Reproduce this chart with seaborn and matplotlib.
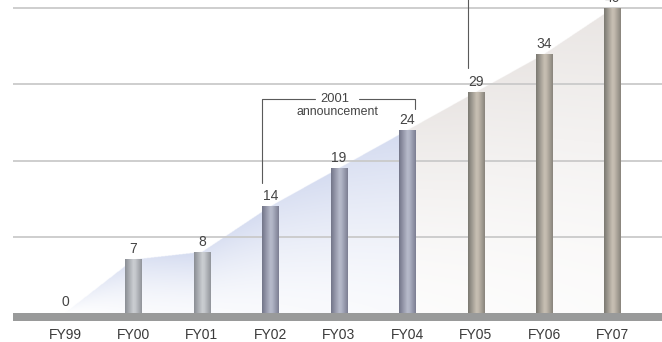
import numpy as np
import matplotlib
matplotlib.use('Agg')
import matplotlib.pyplot as plt
import seaborn as sns
import pandas as pd
from matplotlib.colors import LinearSegmentedColormap, to_rgb

# ---------------- data ----------------
categories = ['FY99', 'FY00', 'FY01', 'FY02', 'FY03', 'FY04', 'FY05', 'FY06', 'FY07']
values = [0, 7, 8, 14, 19, 24, 29, 34, 40]
grid_values = [10, 20, 30, 40]
bar_tones = ['silver', 'silver', 'silver', 'blue', 'blue', 'blue', 'warm', 'warm', 'warm']
announce_text = ['2001', 'announcement']

# ---------------- style ----------------
sns.set_theme(style='white')
plt.rcParams['font.family'] = ['Liberation Sans', 'DejaVu Sans']

XLIM = (-0.9495, 8.72)
YLIM = (-1.05, 41.09)
LINE_START = -0.76

fig = plt.figure(figsize=(6.62, 3.42), dpi=100)
ax = fig.add_axes([0, 21.3 / 342, 1, 320.7 / 342])
fig.patch.set_facecolor('white')
ax.set_facecolor('white')

df = pd.DataFrame({'cat': categories, 'val': values})
sns.barplot(data=df, x='cat', y='val', width=0.24, color='#8c8c8c',
            saturation=1, ax=ax, zorder=3, linewidth=0)

bar_patches = list(ax.patches)

# cylinder gradients for bars
cmaps = {
    'silver': LinearSegmentedColormap.from_list(
        's', [(0, '#8a8e94'), (0.5, '#cbced2'), (0.62, '#c5c8cc'), (1, '#91949a')]),
    'blue': LinearSegmentedColormap.from_list(
        'b', [(0, '#727488'), (0.5, '#b7bbcb'), (0.62, '#b0b4c5'), (1, '#7c7e92')]),
    'warm': LinearSegmentedColormap.from_list(
        'w', [(0, '#7a7871'), (0.5, '#c8c0b4'), (0.62, '#c1b9ad'), (1, '#88847c')]),
}
grad = np.linspace(0, 1, 128)[None, :]
for patch, tone in zip(bar_patches, bar_tones):
    x0 = patch.get_x(); w = patch.get_width(); h = patch.get_height()
    if h <= 0:
        continue
    im = ax.imshow(grad, cmap=cmaps[tone], extent=(x0, x0 + w, 0, h),
                   aspect='auto', zorder=3.5, interpolation='bilinear')
    im.set_clip_path(patch)

# area fill behind bars with gradient
xs = np.arange(len(values))
nx, ny = 1400, 800
X = np.linspace(XLIM[0], XLIM[1], nx)
Y = np.linspace(0, YLIM[1], ny)
top = np.interp(X, xs, values)
inside_x = (X >= 0) & (X <= xs[-1])
XX, YY = np.meshgrid(X, Y)
TT = np.broadcast_to(top, XX.shape)
v = np.clip(YY / np.maximum(TT, 1e-6), 0, 1)
u = XX - np.floor(XX)
intensity = (0.15 + 0.85 * v ** 1.5) * (0.8 + 0.2 * u)
intensity *= np.clip(XX / 1.2, 0, 1) ** 0.6
blue = np.array(to_rgb('#d4dbf0'))
warm = np.array(to_rgb('#e9e5e3'))
base = np.where((XX <= xs[5])[..., None], blue, warm)
rgb = 1 - intensity[..., None] * (1 - base)
alpha = ((YY <= TT) & inside_x[None, :]).astype(float)
rgba = np.dstack([rgb, alpha])
ax.imshow(rgba, extent=(XLIM[0], XLIM[1], 0, YLIM[1]), origin='lower',
          aspect='auto', zorder=1, interpolation='bilinear')

# gridlines
ax.hlines(grid_values, LINE_START, XLIM[1], colors='#cacaca', linewidth=1.3, zorder=2)
# baseline band
ax.fill_between([LINE_START, XLIM[1]], YLIM[0], 0, color='#999a9a', lw=0, zorder=4)

# value labels
for i, val in enumerate(values):
    ax.annotate(str(val), (i, val), xytext=(0, 4.5), textcoords='offset points',
                ha='center', va='baseline', fontsize=10, color='#444444',
                zorder=6, annotation_clip=False)

# announcement bracket
lc = '#5a5a5a'
yb = 28.08
xl, xr = 2.873, 5.112
ax.plot([xl, xl, 3.652], [17.04, yb, yb], color=lc, lw=0.8, zorder=6)
ax.plot([4.294, xr, xr], [yb, yb, 26.77], color=lc, lw=0.8, zorder=6)
ax.text(3.944, yb, announce_text[0], ha='center', va='center', fontsize=9.3,
        color='#444444', zorder=6)
ax.text(3.973, 26.37, announce_text[1], ha='center', va='center', fontsize=8.9,
        color='#444444', zorder=6)
# second (cut-off) annotation line
ax.plot([5.891, 5.891], [32.15, YLIM[1] + 1], color=lc, lw=0.8, zorder=6, clip_on=False)

ax.set_xlim(*XLIM)
ax.set_ylim(*YLIM)
for s in ax.spines.values():
    s.set_visible(False)
ax.set_yticks([])
ax.set_xlabel('')
ax.set_ylabel('')
ax.grid(False)
ax.tick_params(axis='x', length=0, pad=5.5, labelsize=10, labelcolor='#3a3a3a')

fig.savefig('out.png', dpi=100)
